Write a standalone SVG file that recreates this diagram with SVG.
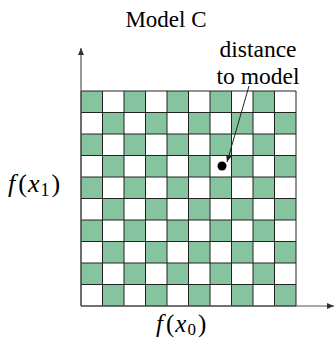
<svg xmlns="http://www.w3.org/2000/svg" width="335" height="343" viewBox="0 0 335 343">
<defs>
<style>
.g{fill:#86c39f}
.grid{stroke:#222;stroke-width:1;fill:none}
.ax{stroke:#555;stroke-width:1.2;fill:none}
</style>
<marker id="ah" markerWidth="8" markerHeight="8" refX="7" refY="4" orient="auto" markerUnits="userSpaceOnUse">
<path d="M0,1 L7,4 L0,7 Z" fill="#222"/>
</marker>
<marker id="axh" markerWidth="8" markerHeight="8" refX="7" refY="4" orient="auto" markerUnits="userSpaceOnUse">
<path d="M0,1 L7,4 L0,7 Z" fill="#333"/>
</marker>
</defs>
<rect width="335" height="343" fill="#fff"/>
<g id="cells">
<rect class="g" x="81" y="91" width="21.5" height="21.5"/><rect class="g" x="124" y="91" width="21.5" height="21.5"/><rect class="g" x="167" y="91" width="21.5" height="21.5"/><rect class="g" x="210" y="91" width="21.5" height="21.5"/><rect class="g" x="253" y="91" width="21.5" height="21.5"/>
<rect class="g" x="102.5" y="112.5" width="21.5" height="21.5"/><rect class="g" x="145.5" y="112.5" width="21.5" height="21.5"/><rect class="g" x="188.5" y="112.5" width="21.5" height="21.5"/><rect class="g" x="231.5" y="112.5" width="21.5" height="21.5"/><rect class="g" x="274.5" y="112.5" width="21.5" height="21.5"/>
<rect class="g" x="81" y="134" width="21.5" height="21.5"/><rect class="g" x="124" y="134" width="21.5" height="21.5"/><rect class="g" x="167" y="134" width="21.5" height="21.5"/><rect class="g" x="210" y="134" width="21.5" height="21.5"/><rect class="g" x="253" y="134" width="21.5" height="21.5"/>
<rect class="g" x="102.5" y="155.5" width="21.5" height="21.5"/><rect class="g" x="145.5" y="155.5" width="21.5" height="21.5"/><rect class="g" x="188.5" y="155.5" width="21.5" height="21.5"/><rect class="g" x="231.5" y="155.5" width="21.5" height="21.5"/><rect class="g" x="274.5" y="155.5" width="21.5" height="21.5"/>
<rect class="g" x="81" y="177" width="21.5" height="21.5"/><rect class="g" x="124" y="177" width="21.5" height="21.5"/><rect class="g" x="167" y="177" width="21.5" height="21.5"/><rect class="g" x="210" y="177" width="21.5" height="21.5"/><rect class="g" x="253" y="177" width="21.5" height="21.5"/>
<rect class="g" x="102.5" y="198.5" width="21.5" height="21.5"/><rect class="g" x="145.5" y="198.5" width="21.5" height="21.5"/><rect class="g" x="188.5" y="198.5" width="21.5" height="21.5"/><rect class="g" x="231.5" y="198.5" width="21.5" height="21.5"/><rect class="g" x="274.5" y="198.5" width="21.5" height="21.5"/>
<rect class="g" x="81" y="220" width="21.5" height="21.5"/><rect class="g" x="124" y="220" width="21.5" height="21.5"/><rect class="g" x="167" y="220" width="21.5" height="21.5"/><rect class="g" x="210" y="220" width="21.5" height="21.5"/><rect class="g" x="253" y="220" width="21.5" height="21.5"/>
<rect class="g" x="102.5" y="241.5" width="21.5" height="21.5"/><rect class="g" x="145.5" y="241.5" width="21.5" height="21.5"/><rect class="g" x="188.5" y="241.5" width="21.5" height="21.5"/><rect class="g" x="231.5" y="241.5" width="21.5" height="21.5"/><rect class="g" x="274.5" y="241.5" width="21.5" height="21.5"/>
<rect class="g" x="81" y="263" width="21.5" height="21.5"/><rect class="g" x="124" y="263" width="21.5" height="21.5"/><rect class="g" x="167" y="263" width="21.5" height="21.5"/><rect class="g" x="210" y="263" width="21.5" height="21.5"/><rect class="g" x="253" y="263" width="21.5" height="21.5"/>
<rect class="g" x="102.5" y="284.5" width="21.5" height="21.5"/><rect class="g" x="145.5" y="284.5" width="21.5" height="21.5"/><rect class="g" x="188.5" y="284.5" width="21.5" height="21.5"/><rect class="g" x="231.5" y="284.5" width="21.5" height="21.5"/><rect class="g" x="274.5" y="284.5" width="21.5" height="21.5"/>
</g>
<g id="gridlines" class="grid">
<path d="M81,91H296M81,112.5H296M81,134H296M81,155.5H296M81,177H296M81,198.5H296M81,220H296M81,241.5H296M81,263H296M81,284.5H296M81,306H296"/>
<path d="M81,91V306M102.5,91V306M124,91V306M145.5,91V306M167,91V306M188.5,91V306M210,91V306M231.5,91V306M253,91V306M274.5,91V306M296,91V306"/>
</g>
<g id="axes">
<line class="ax" x1="81" y1="306" x2="81" y2="48" marker-end="url(#axh)"/>
<line class="ax" x1="81" y1="306" x2="334" y2="306" marker-end="url(#axh)"/>
</g>
<g id="point">
<circle cx="222" cy="166" r="4.5" fill="#000"/>
</g>
<g id="connectors">
<line x1="249" y1="86" x2="227" y2="162" stroke="#222" stroke-width="1" marker-end="url(#ah)"/>
</g>
<g id="labels" font-family="'Liberation Serif', 'DejaVu Serif', 'Times New Roman', serif" fill="#000">
<text x="166" y="27" font-size="23" text-anchor="middle">Model C</text>
<text x="258" y="57" font-size="23.5" text-anchor="middle">distance</text>
<text x="258" y="84" font-size="23.5" text-anchor="middle">to model</text>
<text x="8" y="192" font-size="26"><tspan font-style="italic">f</tspan><tspan dx="3">(</tspan><tspan font-style="italic" dx="1">x</tspan><tspan font-size="18" dy="4" dx="1">1</tspan><tspan dy="-4" dx="2">)</tspan></text>
<text x="156" y="332" font-size="25"><tspan font-style="italic">f</tspan><tspan dx="3">(</tspan><tspan font-style="italic" dx="1">x</tspan><tspan font-size="17" dy="3" dx="1">0</tspan><tspan dy="-3" dx="2">)</tspan></text>
</g>
</svg>
